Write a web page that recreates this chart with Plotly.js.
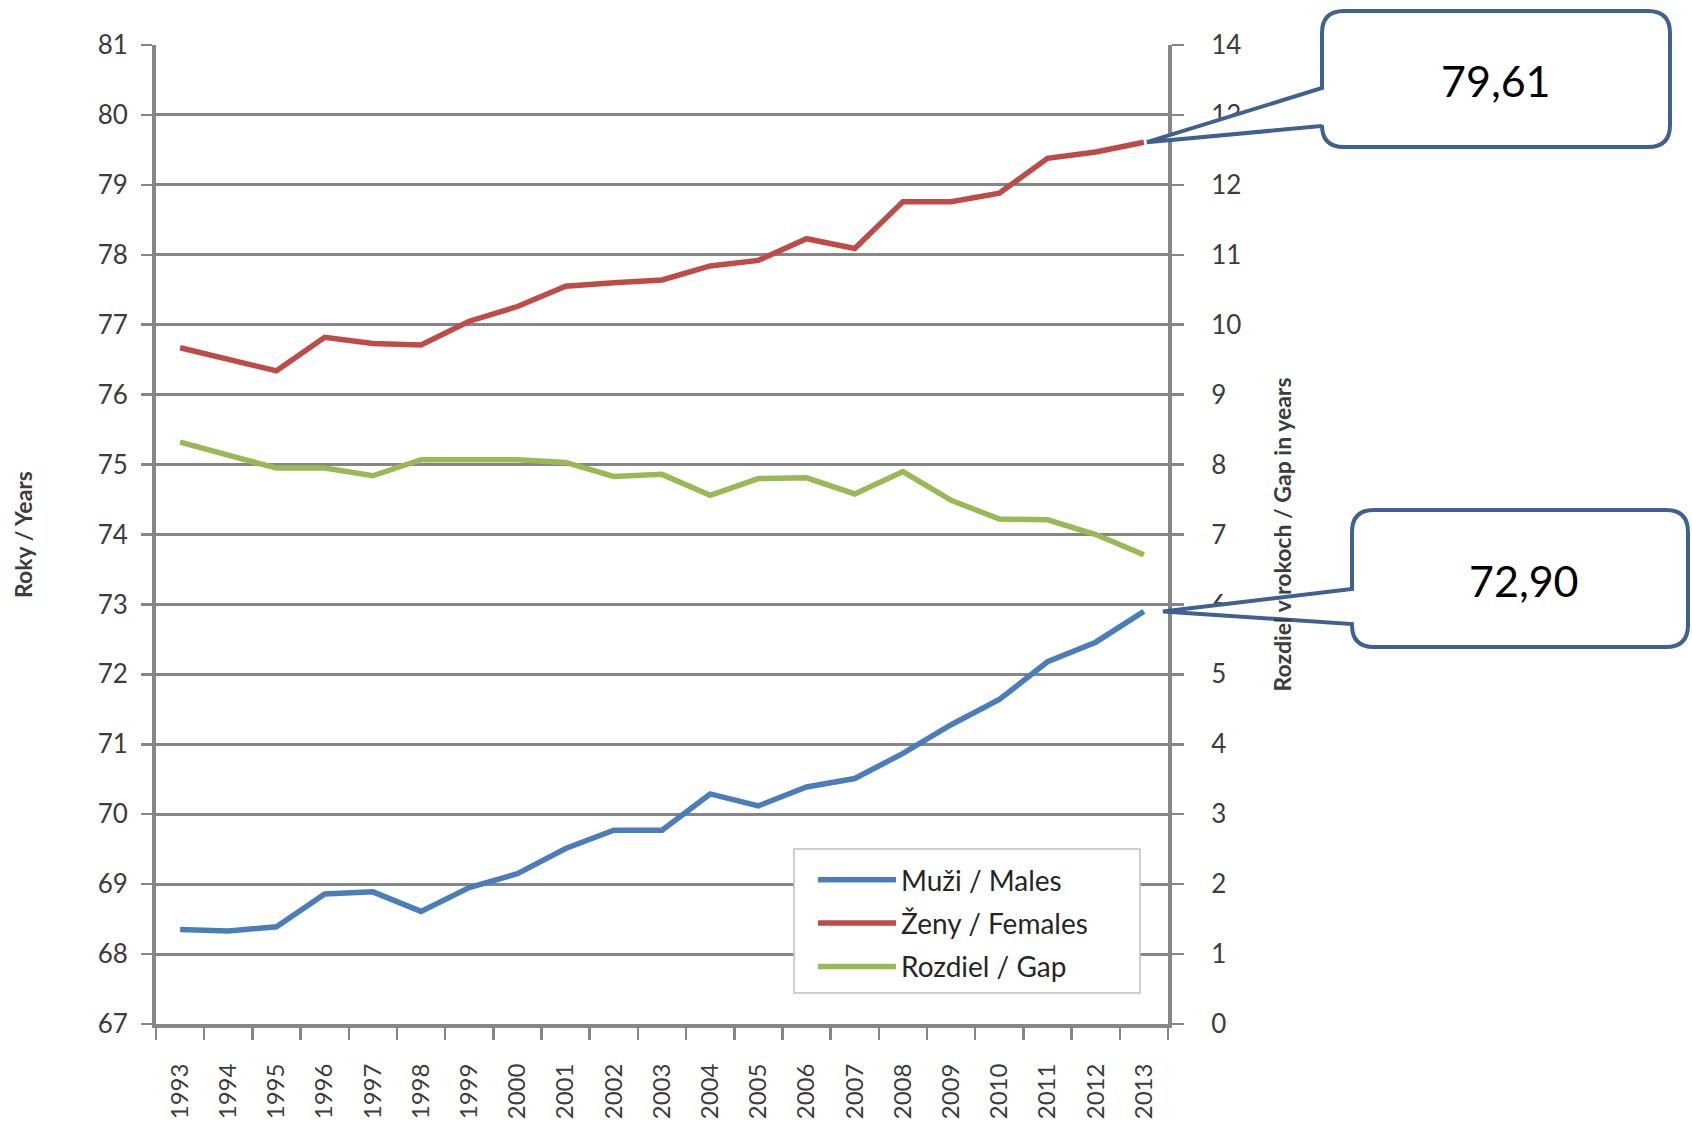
<!DOCTYPE html>
<html>
<head>
<meta charset="utf-8">
<script src="https://cdn.plot.ly/plotly-3.0.1.min.js"></script>
<style>
  html, body { margin: 0; padding: 0; background: #ffffff; }
  #chart { width: 1692px; height: 1125px; }
</style>
</head>
<body>
<div id="chart"></div>
<script>
// ---- Data ----
const years = ['1993','1994','1995','1996','1997','1998','1999','2000','2001','2002','2003',
               '2004','2005','2006','2007','2008','2009','2010','2011','2012','2013'];
const males = [68.35, 68.33, 68.39, 68.86, 68.89, 68.61, 68.95, 69.15, 69.51, 69.77, 69.77,
               70.29, 70.12, 70.39, 70.51, 70.87, 71.28, 71.64, 72.18, 72.46, 72.90];
const females = [76.67, 76.50, 76.34, 76.82, 76.73, 76.71, 77.05, 77.26, 77.55, 77.60, 77.64,
                 77.84, 77.92, 78.23, 78.09, 78.76, 78.76, 78.88, 79.38, 79.47, 79.61];
const gap = [8.32, 8.14, 7.95, 7.95, 7.84, 8.07, 8.07, 8.07, 8.03, 7.83, 7.86,
             7.56, 7.80, 7.81, 7.58, 7.90, 7.49, 7.22, 7.21, 7.00, 6.71];
const seriesNames = ['Muži / Males', 'Ženy / Females', 'Rozdiel / Gap'];
const leftTickVals = [67,68,69,70,71,72,73,74,75,76,77,78,79,80,81];
const rightTickVals = [0,1,2,3,4,5,6,7,8,9,10,11,12,13,14];

// ---- Layout geometry (pixels) ----
const W = 1692, H = 1125;
const M = { l: 156, r: 1692 - 1168, t: 45, b: 1125 - 1024 };
const plotW = W - M.l - M.r, plotH = H - M.t - M.b;
const yMin = 67, yMax = 81;
const px2x = px => (px - M.l) / plotW;
const py2y = py => (H - M.b - py) / plotH;
const val2py = v => M.t + (yMax - v) / (yMax - yMin) * plotH;
const cat2px = i => M.l + (i + 0.5) / years.length * plotW;

const fontFam = 'Lato, "Open Sans", "Liberation Sans", sans-serif';
const axisGray = '#868686';
const txtGray = '#3c3c3c';
const calloutColor = '#3f6090';

// rounded callout with a wedge pointing to (tipX, tipY), all in pixels
function calloutPath(L, T, R, B, r, wTop, wBot, tipX, tipY) {
  const P = (x, y) => px2x(x).toFixed(5) + ',' + py2y(y).toFixed(5);
  return 'M' + P(L + r, T) +
         ' L' + P(R - r, T) +
         ' Q' + P(R, T) + ' ' + P(R, T + r) +
         ' L' + P(R, B - r) +
         ' Q' + P(R, B) + ' ' + P(R - r, B) +
         ' L' + P(L + r, B) +
         ' Q' + P(L, B) + ' ' + P(L, B - r) +
         ' L' + P(L, wBot) +
         ' L' + P(tipX, tipY) +
         ' L' + P(L, wTop) +
         ' L' + P(L, T + r) +
         ' Q' + P(L, T) + ' ' + P(L + r, T) + ' Z';
}

const last = years.length - 1;
const fTipX = cat2px(last) + 3, fTipY = val2py(females[last]);
const mTipX = cat2px(last) + 19, mTipY = val2py(males[last]);

const fmt = v => v.toFixed(2).replace('.', ',');

const traces = [
  { x: years, y: males, name: seriesNames[0], type: 'scatter', mode: 'lines',
    line: { color: '#4a7ebb', width: 5.5 }, legendgroup: 'a', hoverinfo: 'skip' },
  { x: years, y: females, name: seriesNames[1], type: 'scatter', mode: 'lines',
    line: { color: '#be4b48', width: 5.5 }, legendgroup: 'b', hoverinfo: 'skip' },
  { x: years, y: gap, name: seriesNames[2], type: 'scatter', mode: 'lines', yaxis: 'y2',
    line: { color: '#98b954', width: 5.5 }, legendgroup: 'c', hoverinfo: 'skip' }
];

const layout = {
  width: W, height: H,
  margin: M,
  paper_bgcolor: '#ffffff', plot_bgcolor: '#ffffff',
  font: { family: fontFam, color: txtGray },
  showlegend: true,
  legend: {
    x: px2x(813), y: py2y(855), xanchor: 'left', yanchor: 'top',
    bgcolor: 'rgba(0,0,0,0)', borderwidth: 0,
    font: { family: fontFam, size: 28, color: '#262626' },
    traceorder: 'grouped', tracegroupgap: 4, itemwidth: 78
  },
  xaxis: {
    type: 'category', range: [-0.5, years.length - 0.5],
    tickson: 'boundaries', ticks: 'outside', ticklen: 12, tickwidth: 2.5, tickcolor: axisGray,
    showline: true, linecolor: axisGray, linewidth: 4,
    showgrid: false, zeroline: false,
    tickangle: -90, tickfont: { family: fontFam, size: 24, color: txtGray },
    ticklabelstandoff: 26, fixedrange: true
  },
  yaxis: {
    range: [yMin, yMax], tickvals: leftTickVals, ticktext: leftTickVals.map(String),
    ticks: 'outside', ticklen: 11, tickwidth: 2.5, tickcolor: axisGray,
    showline: true, linecolor: axisGray, linewidth: 4,
    showgrid: true, gridcolor: axisGray, gridwidth: 3, zeroline: false,
    tickfont: { family: fontFam, size: 26, color: txtGray },
    ticklabelstandoff: 8,
    title: { text: 'Roky / Years', standoff: 60,
             font: { family: fontFam, size: 23, color: txtGray, weight: 700 } },
    fixedrange: true
  },
  yaxis2: {
    overlaying: 'y', side: 'right', range: [0, 14],
    tickvals: rightTickVals, ticktext: rightTickVals.map(String),
    ticks: 'outside', ticklen: 12, tickwidth: 2.5, tickcolor: axisGray,
    showline: true, linecolor: axisGray, linewidth: 4,
    showgrid: false, zeroline: false,
    tickfont: { family: fontFam, size: 26, color: txtGray },
    ticklabelstandoff: 22,
    title: { text: 'Rozdiel v rokoch / Gap in years', standoff: 36,
             font: { family: fontFam, size: 23, color: txtGray, weight: 700 } },
    fixedrange: true
  },
  shapes: [
    // legend frame
    { type: 'rect', xref: 'paper', yref: 'paper', layer: 'above',
      x0: px2x(794), x1: px2x(1140), y0: py2y(849), y1: py2y(993),
      fillcolor: '#ffffff', line: { color: '#c0c0c0', width: 1.5 } },
    // callouts
    { type: 'path', xref: 'paper', yref: 'paper', layer: 'above',
      path: calloutPath(1322, 11, 1670, 147, 22, 88, 126, fTipX, fTipY),
      fillcolor: '#ffffff', line: { color: calloutColor, width: 4 } },
    { type: 'path', xref: 'paper', yref: 'paper', layer: 'above',
      path: calloutPath(1352, 510, 1688, 647, 22, 589, 624, mTipX, mTipY),
      fillcolor: '#ffffff', line: { color: calloutColor, width: 4 } }
  ],
  annotations: [
    { xref: 'paper', yref: 'paper', x: px2x(1496), y: py2y(80), showarrow: false,
      xanchor: 'center', yanchor: 'middle', text: fmt(females[last]),
      font: { family: fontFam, size: 43, color: '#000000' } },
    { xref: 'paper', yref: 'paper', x: px2x(1524), y: py2y(580), showarrow: false,
      xanchor: 'center', yanchor: 'middle', text: fmt(males[last]),
      font: { family: fontFam, size: 43, color: '#000000' } }
  ]
};

Plotly.newPlot('chart', traces, layout, { displayModeBar: false, staticPlot: true });
</script>
</body>
</html>
